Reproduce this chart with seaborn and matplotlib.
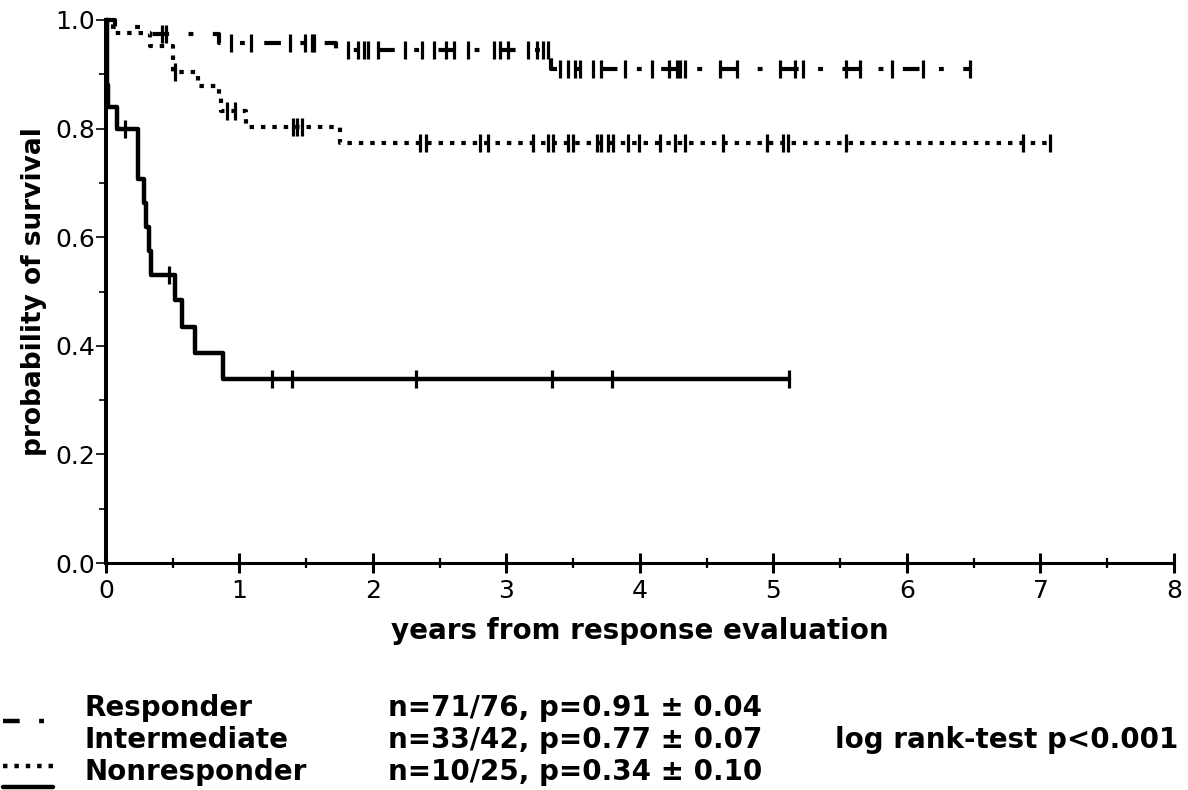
import matplotlib
matplotlib.use("Agg")
import matplotlib.pyplot as plt
import matplotlib.lines as mlines
from matplotlib.ticker import MultipleLocator, FormatStrFormatter
import seaborn as sns
import numpy as np

# Kaplan-Meier steps (years, survival)
resp_t = [0, 0.07, 0.33, 0.85, 1.72, 3.33, 6.47]
resp_s = [1.0, 0.987, 0.974, 0.958, 0.945, 0.91, 0.91]
resp_cens = [0.42, 0.45, 0.94, 1.09, 1.38, 1.49, 1.54, 1.56, 1.81, 1.89, 1.93,
             1.96, 2.04, 2.24, 2.37, 2.46, 2.55, 2.61, 2.71, 2.91, 2.95, 3.01,
             3.16, 3.23, 3.27, 3.31, 3.40, 3.46, 3.51, 3.55, 3.65, 3.71, 3.89,
             4.09, 4.22, 4.28, 4.30, 4.34, 4.60, 4.73, 5.05, 5.16, 5.22, 5.54,
             5.65, 5.89, 6.12, 6.47]

inter_t = [0, 0.05, 0.33, 0.50, 0.69, 0.85, 0.86, 1.05, 1.75, 7.07]
inter_s = [1.0, 0.976, 0.952, 0.905, 0.879, 0.856, 0.833, 0.803, 0.774, 0.774]
inter_cens = [0.52, 0.91, 0.97, 1.40, 1.43, 1.47, 2.35, 2.40, 2.80, 2.86, 3.20,
              3.31, 3.35, 3.46, 3.50, 3.68, 3.71, 3.76, 3.80, 3.91, 3.99, 4.15,
              4.26, 4.34, 4.62, 4.95, 5.07, 5.11, 5.54, 6.87, 7.07]

nonr_t = [0, 0.005, 0.015, 0.08, 0.24, 0.285, 0.30, 0.32, 0.34, 0.52, 0.57,
          0.67, 0.88, 5.12]
nonr_s = [1.0, 0.88, 0.84, 0.80, 0.707, 0.663, 0.619, 0.575, 0.53, 0.484,
          0.434, 0.387, 0.338, 0.338]
nonr_cens = [0.14, 0.47, 1.24, 1.39, 2.32, 3.34, 3.79, 5.12]

groups = ["Responder", "Intermediate", "Nonresponder"]
stats = ["n=71/76, p=0.91 \u00b1 0.04", "n=33/42, p=0.77 \u00b1 0.07",
         "n=10/25, p=0.34 \u00b1 0.10"]
logrank = "log rank-test p<0.001"

styles = [(0, (12, 14, 3.5, 14)), (0, (3.2, 5)), "-"]
widths = [3.0, 3.0, 3.2]

sns.set_style("ticks")
plt.rcParams["font.family"] = ["DejaVu Sans"]
plt.rcParams["lines.scale_dashes"] = False
plt.rcParams["text.color"] = "black"
plt.rcParams["axes.labelcolor"] = "black"
plt.rcParams["xtick.color"] = "black"
plt.rcParams["ytick.color"] = "black"
plt.rcParams["axes.edgecolor"] = "black"

fig = plt.figure(figsize=(11.88, 7.90), dpi=100)
ax = fig.add_axes([0.0892, 0.2873, 0.8990, 0.6874])

curves = [(resp_t, resp_s, resp_cens), (inter_t, inter_s, inter_cens),
          (nonr_t, nonr_s, nonr_cens)]
for (t, s, cens), ls, lw in zip(curves, styles, widths):
    sns.lineplot(x=t, y=s, ax=ax, estimator=None, sort=False,
                 drawstyle="steps-post", color="black", linewidth=lw,
                 linestyle=ls, clip_on=False)
    # survival value at each censoring time
    idx = np.searchsorted(t, cens, side="right") - 1
    cs = np.array(s)[idx]
    sns.scatterplot(x=cens, y=cs, ax=ax, marker="|", s=170, color="black",
                    linewidth=2.3, clip_on=False, zorder=3)

ax.set_xlim(0, 8)
ax.set_ylim(0, 1)
ax.xaxis.set_major_locator(MultipleLocator(1))
ax.xaxis.set_minor_locator(MultipleLocator(0.5))
ax.yaxis.set_major_locator(MultipleLocator(0.2))
ax.yaxis.set_minor_locator(MultipleLocator(0.1))
ax.yaxis.set_major_formatter(FormatStrFormatter("%.1f"))

sns.despine(ax=ax)
ax.spines["left"].set_linewidth(2.9)
ax.spines["bottom"].set_linewidth(2.2)
ax.tick_params(axis="x", which="major", direction="inout", length=15,
               width=2.2, labelsize=18, pad=4)
ax.tick_params(axis="x", which="minor", direction="inout", length=7,
               width=1.6)
ax.tick_params(axis="y", which="major", direction="out", length=7,
               width=1.2, labelsize=18, pad=1)
ax.tick_params(axis="y", which="minor", direction="out", length=5,
               width=1.2)

ax.set_xlabel("years from response evaluation", fontsize=20,
              fontweight="bold", labelpad=10)
ax.set_ylabel("probability of survival", fontsize=19, fontweight="bold",
              labelpad=6)

# legend block under the chart
W, H = 1188, 790
base_y = [716, 748, 780]
sample_y = [721, 766, 787]
for name, st, by, sy, ls in zip(groups, stats, base_y, sample_y, styles):
    fig.text(85 / W, 1 - by / H, name, fontsize=20, fontweight="bold",
             va="baseline", ha="left")
    fig.text(388 / W, 1 - by / H, st, fontsize=20, fontweight="bold",
             va="baseline", ha="left")
    fig.add_artist(mlines.Line2D([3 / W, 53 / W], [1 - sy / H, 1 - sy / H],
                                 color="black", linewidth=3.2, linestyle=ls))
fig.text(1178 / W, 1 - 748 / H, logrank, fontsize=20, fontweight="bold",
         va="baseline", ha="right")

fig.savefig("out.png", dpi=100)
